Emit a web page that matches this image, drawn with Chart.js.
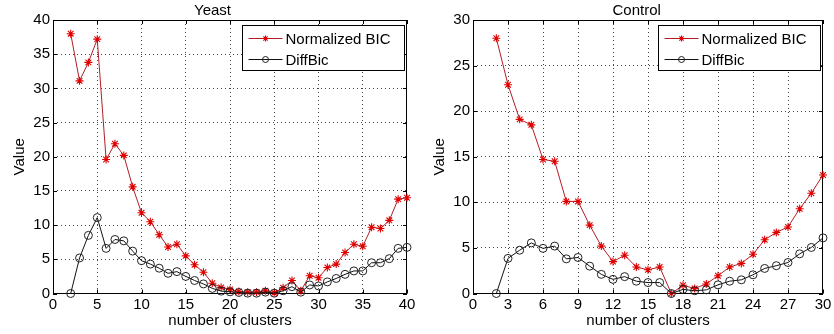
<!DOCTYPE html>
<html>
<head>
<meta charset="utf-8">
<script src="https://cdn.jsdelivr.net/npm/chart.js@4.4.1/dist/chart.umd.min.js"></script>
<style>
  body { margin: 0; background: #fff; }
  canvas { position: absolute; top: 0; }
</style>
</head>
<body>
<canvas id="yeastChart" width="420" height="334" style="left:0"></canvas>
<canvas id="controlChart" width="414" height="334" style="left:420px"></canvas>
<script>
// number of clusters
const yeastK = [2, 3, 4, 5, 6, 7, 8, 9, 10, 11, 12, 13, 14, 15, 16, 17, 18, 19, 20, 21,
  22, 23, 24, 25, 26, 27, 28, 29, 30, 31, 32, 33, 34, 35, 36, 37, 38, 39, 40];
const yeastBIC = [38.0, 31.1, 33.8, 37.2, 19.6, 21.9, 20.2, 15.6, 11.8, 10.5, 8.6, 6.8, 7.2, 5.5,
  4.2, 3.1, 1.5, 0.9, 0.6, 0.3, 0.2, 0.2, 0.4, 0.1, 0.85, 1.9, 0.4, 2.6, 2.3, 3.8, 4.3, 6.0,
  7.2, 6.9, 9.7, 9.5, 10.7, 13.8, 14.0];
const yeastDiff = [0, 5.2, 8.5, 11.1, 6.6, 7.9, 7.7, 6.2, 4.8, 4.3, 3.7, 2.95, 3.2, 2.5, 1.9,
  1.4, 0.75, 0.35, 0.25, 0.15, 0.05, 0.05, 0.2, 0.05, 0.4, 1.0, 0.2, 1.25, 1.1, 1.7, 2.2, 2.8,
  3.3, 3.3, 4.5, 4.5, 5.1, 6.6, 6.75];

const controlK = [2, 3, 4, 5, 6, 7, 8, 9, 10, 11, 12, 13, 14, 15, 16, 17, 18, 19, 20, 21,
  22, 23, 24, 25, 26, 27, 28, 29, 30];
const controlBIC = [28.0, 22.9, 19.1, 18.5, 14.7, 14.5, 10.1, 10.1, 7.5, 5.2, 3.5, 4.2, 2.9,
  2.6, 2.9, 0, 0.9, 0.55, 1.05, 1.95, 2.9, 3.3, 4.3, 5.9, 6.7, 7.3, 9.3, 11.0, 13.0];
const controlDiff = [0, 3.85, 4.75, 5.55, 4.95, 5.2, 3.8, 3.95, 3.0, 2.1, 1.55, 1.85, 1.35,
  1.2, 1.2, 0, 0.45, 0.3, 0.4, 0.95, 1.35, 1.5, 2.05, 2.75, 3.05, 3.4, 4.35, 5.05, 6.1];

const seriesNames = ['Normalized BIC', 'DiffBic'];

Chart.defaults.font.family = '"Liberation Sans", Arial, sans-serif';
Chart.defaults.font.size = 15;
Chart.defaults.color = '#000';

// box, inward ticks, title and legend drawn matlab-style
const matlabAxes = {
  id: 'matlabAxes',
  beforeDatasetsDraw(chart) {
    const { ctx, chartArea: a, scales: { x, y } } = chart;
    ctx.save();
    ctx.strokeStyle = '#000';
    ctx.lineWidth = 1;
    ctx.strokeRect(Math.round(a.left) + 0.5, Math.round(a.top) + 0.5,
      Math.round(a.width) - 1, Math.round(a.height) - 1);
    ctx.beginPath();
    x.ticks.forEach(t => {
      const px = Math.round(x.getPixelForValue(t.value)) + 0.5;
      ctx.moveTo(px, a.bottom); ctx.lineTo(px, a.bottom - 4);
      ctx.moveTo(px, a.top); ctx.lineTo(px, a.top + 4);
    });
    y.ticks.forEach(t => {
      const py = Math.round(y.getPixelForValue(t.value)) + 0.5;
      ctx.moveTo(a.left, py); ctx.lineTo(a.left + 4, py);
      ctx.moveTo(a.right, py); ctx.lineTo(a.right - 4, py);
    });
    ctx.stroke();
    ctx.restore();
  },
  afterDraw(chart, args, opts) {
    const { ctx, chartArea: a } = chart;
    ctx.save();
    // title
    ctx.font = '15px "Liberation Sans", Arial, sans-serif';
    ctx.fillStyle = '#000';
    ctx.textAlign = 'center';
    ctx.textBaseline = 'middle';
    ctx.fillText(opts.title, opts.titleX, 11);

    // legend
    const w = 162, h = 45;
    const lx = Math.round(a.right - 3 - w) + 0.5, ly = Math.round(a.top + 5) + 0.5;
    ctx.fillStyle = '#fff';
    ctx.fillRect(lx, ly, w, h);
    ctx.strokeStyle = '#000';
    ctx.lineWidth = 1;
    ctx.strokeRect(lx, ly, w, h);
    chart.data.datasets.forEach((ds, i) => {
      const cy = ly + 13 + i * 21;
      const x0 = lx + 6, x1 = lx + 40;
      ctx.strokeStyle = ds.borderColor;
      ctx.lineWidth = 1;
      ctx.beginPath(); ctx.moveTo(x0, cy); ctx.lineTo(x1, cy); ctx.stroke();
      ctx.fillStyle = 'rgba(0,0,0,0)';
      ctx.strokeStyle = ds.pointBorderColor;
      ctx.lineWidth = ds.pointBorderWidth;
      Chart.helpers.drawPoint(ctx, {
        pointStyle: ds.pointStyle, radius: ds.pointStyle === 'star' ? 3 : 3,
        borderWidth: ds.pointBorderWidth, rotation: 0
      }, (x0 + x1) / 2, cy);
      ctx.fillStyle = '#000';
      ctx.textAlign = 'left';
      ctx.fillText(ds.label, lx + 43, cy + 1);
    });
    ctx.restore();
  }
};

function makePanel(canvasId, title, titleX, ks, bic, diff, xMax, xStep, yMax, padRight) {
  const ctx = document.getElementById(canvasId).getContext('2d');
  const gridColor = (c, max) => (c.tick && (c.tick.value === 0 || c.tick.value === max)) ? 'rgba(0,0,0,0)' : '#444';
  return new Chart(ctx, {
    type: 'line',
    data: {
      datasets: [{
        label: seriesNames[0],
        data: ks.map((k, i) => ({ x: k, y: bic[i] })),
        borderColor: '#b01e24',
        borderWidth: 1,
        pointStyle: 'star',
        pointRadius: 4,
        pointBorderColor: '#e00000',
        pointBackgroundColor: '#e00000',
        pointBorderWidth: 1.1,
        order: 2,
        clip: false
      }, {
        label: seriesNames[1],
        data: ks.map((k, i) => ({ x: k, y: diff[i] })),
        borderColor: '#111',
        borderWidth: 1,
        pointStyle: 'circle',
        pointRadius: 4,
        pointBorderColor: '#222',
        pointBackgroundColor: 'rgba(0,0,0,0)',
        pointBorderWidth: 1,
        order: 1,
        clip: false
      }]
    },
    options: {
      responsive: false,
      animation: false,
      layout: { padding: { left: 11, right: padRight, top: 20, bottom: 0 } },
      plugins: {
        legend: { display: false },
        tooltip: { enabled: false },
        matlabAxes: { title: title, titleX: titleX }
      },
      scales: {
        x: {
          type: 'linear',
          min: 0,
          max: xMax,
          afterFit: s => { s.height = 40.5; },
          ticks: { stepSize: xStep, autoSkip: false, maxRotation: 0, padding: 2 },
          grid: { color: c => gridColor(c, xMax), drawTicks: false },
          border: { display: false, dash: [1, 3] },
          title: { display: true, text: 'number of clusters', padding: { top: 0, bottom: 4 } }
        },
        y: {
          min: 0,
          max: yMax,
          afterFit: s => { s.width = 42; },
          ticks: { stepSize: 5, padding: 3 },
          grid: { color: c => gridColor(c, yMax), drawTicks: false },
          border: { display: false, dash: [1, 3] },
          title: { display: true, text: 'Value', padding: 0 }
        }
      }
    },
    plugins: [matlabAxes]
  });
}

makePanel('yeastChart', 'Yeast', 212.5, yeastK, yeastBIC, yeastDiff, 40, 5, 40, 13);
makePanel('controlChart', 'Control', 216.7, controlK, controlBIC, controlDiff, 30, 3, 30, 11);
</script>
</body>
</html>
